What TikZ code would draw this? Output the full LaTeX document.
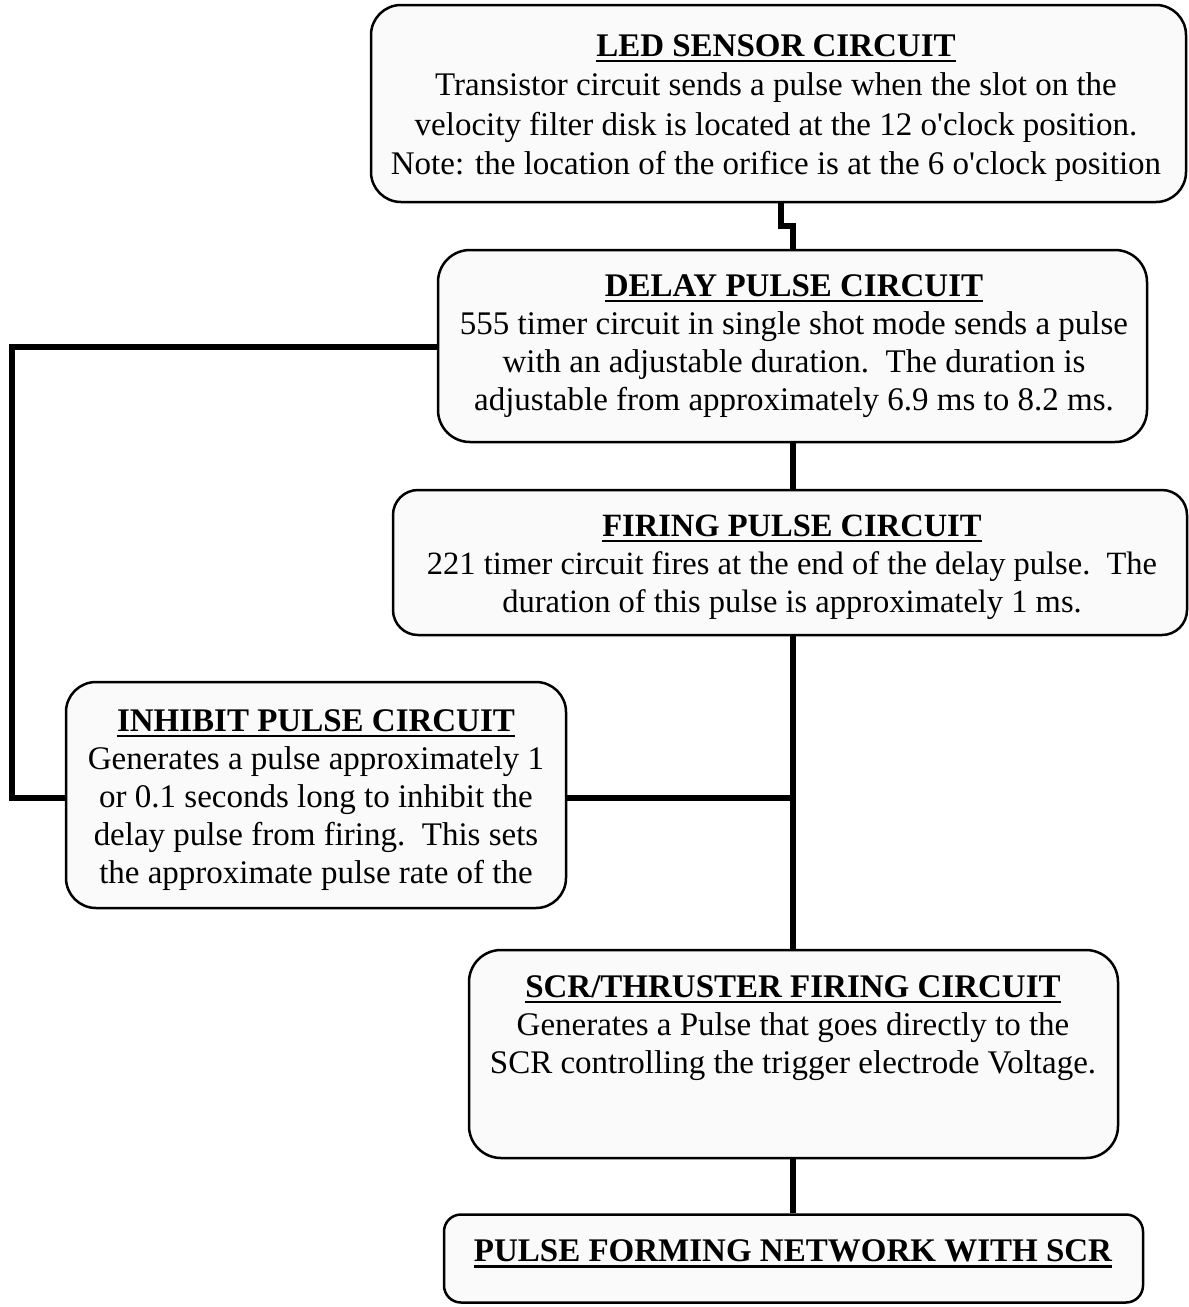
\documentclass[tikz,border=0pt]{standalone}
\usepackage{fontspec}
\setmainfont{Liberation Serif}

% bold, underlined heading used at the top of every block
\newsavebox\headbox
\newcommand{\blockhead}[1]{%
  \sbox\headbox{\bfseries #1}%
  \makebox[0pt][l]{\rule[-6pt]{\wd\headbox}{2.6pt}}\usebox\headbox}
% straight apostrophe, set as a glyph so the TeX quote mapping leaves it alone
\newcommand{\apos}{\XeTeXglyph\XeTeXcharglyph"27\relax}

\begin{document}
\begin{tikzpicture}[x=1pt, y=-1pt,
  block/.style={draw, line width=2.5pt, fill=black!2, inner sep=0pt,
                rounded corners=#1},
  block/.default=30pt,
  blocktext/.style={align=center, inner sep=0pt,
                    font=\fontsize{33}{38}\selectfont},
  conn/.style={line width=5.5pt}]

\useasboundingbox (0,0) rectangle (1189,1307);

% ---- blocks ----
\node[block=30pt, minimum width=815pt, minimum height=197pt] (led) at (778.5,103.5) {};
\node[block=32pt, minimum width=709pt, minimum height=192pt] (delay) at (792.5,346) {};
\node[block=25pt, minimum width=794pt, minimum height=145pt] (firing) at (790,562.5) {};
\node[block=30pt, minimum width=500pt, minimum height=226pt] (inhibit) at (316,795) {};
\node[block=32pt, minimum width=649pt, minimum height=208pt] (scr) at (793.5,1054) {};
\node[block=17pt, minimum width=699pt, minimum height=88pt] (pfn) at (793.5,1258.5) {};

% ---- texts ----
\node[blocktext, font=\fontsize{33}{39.5}\selectfont] (ledtxt) at (776,108) {%
  \blockhead{LED SENSOR CIRCUIT}\\
  Transistor circuit sends a pulse when the slot on the\\
  velocity filter disk is located at the 12 o\apos clock position.\\
  Note: the location of the orifice is at the 6 o\apos clock position};

\node[blocktext] (delaytxt) at (794,346) {%
  \blockhead{DELAY PULSE CIRCUIT}\\
  555 timer circuit in single shot mode sends a pulse\\
  with an adjustable duration.\ \ The duration is\\
  adjustable from approximately 6.9 ms to 8.2 ms.};

\node[blocktext, font=\fontsize{32.5}{38}\selectfont] (firingtxt) at (792,567) {%
  \blockhead{FIRING PULSE CIRCUIT}\\
  221 timer circuit fires at the end of the delay pulse.\ \ The\\
  duration of this pulse is approximately 1 ms.};

\node[blocktext] (inhibittxt) at (316,800) {%
  \blockhead{INHIBIT PULSE CIRCUIT}\\
  Generates a pulse approximately 1\\
  or 0.1 seconds long to inhibit the\\
  delay pulse from firing.\ \ This sets\\
  the approximate pulse rate of the};

\node[blocktext] (scrtxt) at (793,1028) {%
  \blockhead{SCR/THRUSTER FIRING CIRCUIT}\\
  Generates a Pulse that goes directly to the\\
  SCR controlling the trigger electrode Voltage.};

\node[blocktext] (pfntxt) at (793,1254) {%
  \blockhead{PULSE FORMING NETWORK WITH SCR}};

% ---- connectors ----
\coordinate (jogA) at (781,226);
\coordinate (jogB) at (793,226);
\coordinate (spine) at (793,798);
\coordinate (loopTop) at (12,347);
\coordinate (loopBot) at (12,798);

\draw[conn] (jogA |- led.south) -- (jogA) -- (jogB) -- (jogB |- delay.north);
\draw[conn] (delay.south -| spine) -- (firing.north -| spine);
\draw[conn] (firing.south -| spine) -- (scr.north -| spine);
\draw[conn] (spine -| inhibit.east) -- (spine);
\draw[conn] (scr.south -| spine) -- (pfn.north -| spine);
\draw[conn] (loopTop -| delay.west) -- (loopTop) -- (loopBot) -- (loopBot -| inhibit.west);

\end{tikzpicture}
\end{document}
